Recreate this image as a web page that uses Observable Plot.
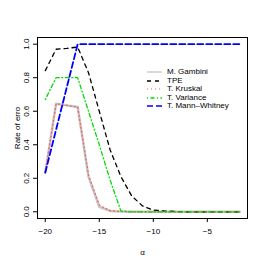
<!DOCTYPE html>
<html><head><meta charset="utf-8">
<script src="https://cdn.jsdelivr.net/npm/d3@7"></script>
<script src="https://cdn.jsdelivr.net/npm/@observablehq/plot@0.6"></script>
<style>
body{margin:0;background:#fff;font-family:"Liberation Sans",Arial,sans-serif;}
#wrap{position:relative;width:266px;height:265px;}
#legend{position:absolute;left:147px;top:68px;font-size:8px;line-height:8.5px;color:#000;}
#legend div{display:flex;align-items:center;height:8.5px;}
#legend svg{margin-right:5px;}
</style></head>
<body><div id="wrap"></div>
<script>
const alpha = [-20,-19,-18,-17,-16,-15,-14,-13,-12,-11,-10,-9,-8,-7,-6,-5,-4,-3,-2];
const gambini  = [0.234,0.645,0.635,0.625,0.21,0.03,0.005,0.001,0,0,0,0,0,0,0,0,0,0,0];
const tpe      = [0.842,0.97,0.975,0.983,0.83,0.6,0.37,0.21,0.095,0.035,0.01,0.005,0.002,0,0,0,0,0,0];
const kruskal  = [0.234,0.645,0.635,0.625,0.22,0.04,0.007,0.002,0.001,0,0,0,0,0,0,0,0,0,0];
const variance = [0.67,0.8,0.8,0.8,0.6,0.4,0.19,0.005,0,0,0,0,0,0,0,0,0,0,0];
const mannW    = [0.234,0.49,0.745,1,1,1,1,1,1,1,1,1,1,1,1,1,1,1,1];
const seriesNames = ["M. Gambini","TPE","T. Kruskal","T. Variance","T. Mann\u2013Whitney"];
const seriesVals = [gambini,tpe,kruskal,variance,mannW];
const styles = [
  {stroke:"#c4c4c4", width:2.4, dash:null},
  {stroke:"#000000", width:1.3, dash:"4 4"},
  {stroke:"#ff5a5a", width:1.2, dash:"1 3"},
  {stroke:"#00dd00", width:1.3, dash:"1 2.5 4 2.5"},
  {stroke:"#0000ff", width:1.8, dash:"6 3"}
];
const xTicks = [-20,-15,-10,-5];
const yTicks = [0,0.2,0.4,0.6,0.8,1.0];

const marks = [];
seriesVals.forEach((vals,i)=>{
  const data = alpha.map((a,j)=>({x:a,y:vals[j]}));
  marks.push(Plot.line(data,{x:"x",y:"y",stroke:styles[i].stroke,strokeWidth:styles[i].width,strokeDasharray:styles[i].dash}));
});
marks.push(Plot.frame({stroke:"#000",strokeWidth:1}));
marks.push(Plot.axisX({ticks:xTicks,tickSize:4,tickPadding:6,fontSize:8,label:"\u03b1",labelAnchor:"center",labelArrow:"none",labelOffset:36}));
marks.push(Plot.axisY({ticks:yTicks,tickSize:4,tickPadding:5,fontSize:8,tickFormat:d3.format(".1f"),tickRotate:-90,label:"Rate of erro",labelAnchor:"center",labelArrow:"none",labelOffset:23}));

const chart = Plot.plot({
  width:266,height:265,
  marginLeft:37,marginRight:19,marginTop:37,marginBottom:47,
  style:{fontFamily:"Liberation Sans, Arial, sans-serif",fontSize:"8px",color:"#000",background:"#fff"},
  x:{domain:[-20.72,-1.28]},
  y:{domain:[-0.04,1.04]},
  marks
});
const wrap = document.getElementById("wrap");
wrap.appendChild(chart);
const leg = document.createElement("div");
leg.id="legend";
seriesNames.forEach((n,i)=>{
  const row=document.createElement("div");
  const s=styles[i];
  row.innerHTML=`<svg width="15" height="6"><line x1="0" x2="15" y1="3" y2="3" stroke="${s.stroke}" stroke-width="${Math.min(s.width,1.3)}" ${s.dash?`stroke-dasharray="${s.dash}"`:""}/></svg><span>${n}</span>`;
  leg.appendChild(row);
});
wrap.appendChild(leg);
</script></body></html>
